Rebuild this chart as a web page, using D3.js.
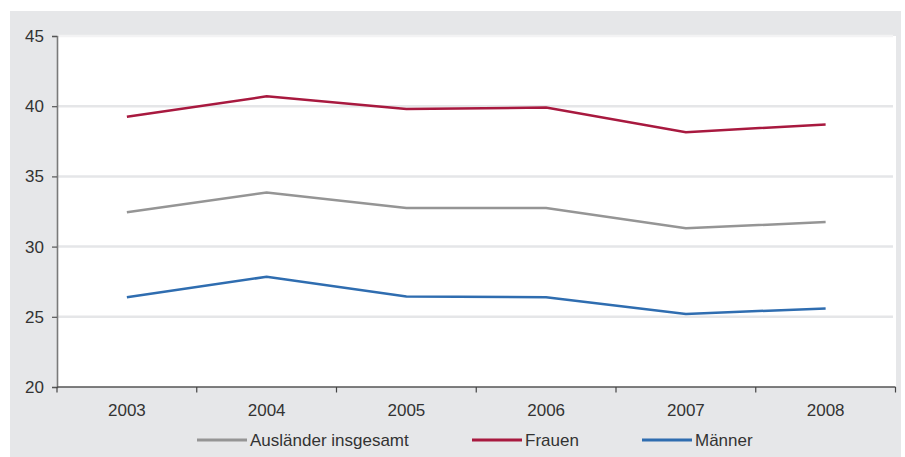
<!DOCTYPE html>
<html><head><meta charset="utf-8">
<script src="https://cdn.jsdelivr.net/npm/d3@7"></script>
<style>
html,body{margin:0;padding:0;background:#fff;}
svg{display:block;font-family:"Liberation Sans",Arial,sans-serif;}
</style></head>
<body>
<svg id="c" width="905" height="457"></svg>
<script>
const years = ["2003","2004","2005","2006","2007","2008"];
const yTicks = [20,25,30,35,40,45];
const seriesNames = ["Ausländer insgesamt","Frauen","Männer"];
const seriesColors = ["#959595","#a8193f","#2f6db0"];
const auslaender = [32.45, 33.85, 32.75, 32.75, 31.3, 31.75];
const frauen = [39.25, 40.7, 39.8, 39.9, 38.15, 38.7];
const maenner = [26.4, 27.85, 26.45, 26.4, 25.2, 25.6];
const seriesValues = [auslaender, frauen, maenner];

const svg = d3.select("#c");
const L = 57, R = 895.5, T = 36, B = 387;
const FS = "17px";

svg.append("rect").attr("x",10).attr("y",11).attr("width",891).attr("height",446).attr("fill","#e6e7e9");
svg.append("rect").attr("x",L).attr("y",T).attr("width",896-L).attr("height",B-T).attr("fill","#fff");

const x = d3.scaleBand().domain(years).range([L,R]).padding(0);
const y = d3.scaleLinear().domain([20,45]).range([B,T]);

// gridlines
svg.append("g").selectAll("line").data(yTicks.filter(d=>d>20)).join("line")
  .attr("x1",L).attr("x2",893).attr("y1",d=>y(d)).attr("y2",d=>y(d))
  .attr("stroke",d=>d===45?"#f3f3f4":"#e5e6e8").attr("stroke-width",2.5);

// y axis
const ya = svg.append("g").attr("transform",`translate(${L},0)`)
  .call(d3.axisLeft(y).tickValues(yTicks).tickSize(5).tickPadding(8));
ya.select(".domain").attr("stroke","#7a7a7a").attr("stroke-width",1.6);
ya.selectAll(".tick line").attr("stroke","#555").attr("stroke-width",1.2);
ya.selectAll("text").attr("fill","#333").style("font-size",FS).style("font-family","'Liberation Sans',Arial,sans-serif");

// x axis
const xa = svg.append("g").attr("transform",`translate(0,${B})`)
  .call(d3.axisBottom(x).tickSize(0).tickPadding(17));
xa.select(".domain").attr("stroke","#555").attr("stroke-width",1.6).attr("d",`M${L},0H${R}`);
xa.selectAll("text").attr("fill","#333").style("font-size",FS).style("font-family","'Liberation Sans',Arial,sans-serif");
const edges = years.map(d=>x(d)).concat([x(years[years.length-1])+x.bandwidth()]);
xa.append("g").selectAll("line").data(edges).join("line")
  .attr("x1",d=>d).attr("x2",d=>d).attr("y1",0).attr("y2",5.5)
  .attr("stroke","#444").attr("stroke-width",1.2);

// lines
const line = d3.line().x((d,i)=>x(years[i])+x.bandwidth()/2).y(d=>y(d));
svg.append("g").selectAll("path").data(seriesValues).join("path")
  .attr("d",d=>line(d)).attr("fill","none")
  .attr("stroke",(d,i)=>seriesColors[i]).attr("stroke-width",2.5).attr("stroke-linejoin","miter");

// legend
const legX = [197, 472, 642];
const lg = svg.append("g").selectAll("g").data(seriesNames).join("g")
  .attr("transform",(d,i)=>`translate(${legX[i]},440)`);
lg.append("line").attr("x1",0).attr("x2",50).attr("y1",0).attr("y2",0)
  .attr("stroke",(d,i)=>seriesColors[i]).attr("stroke-width",2.8);
lg.append("text").attr("x",53).attr("y",0).attr("dy","0.35em")
  .attr("fill","#333").style("font-size",FS).text(d=>d);
</script>
</body></html>
